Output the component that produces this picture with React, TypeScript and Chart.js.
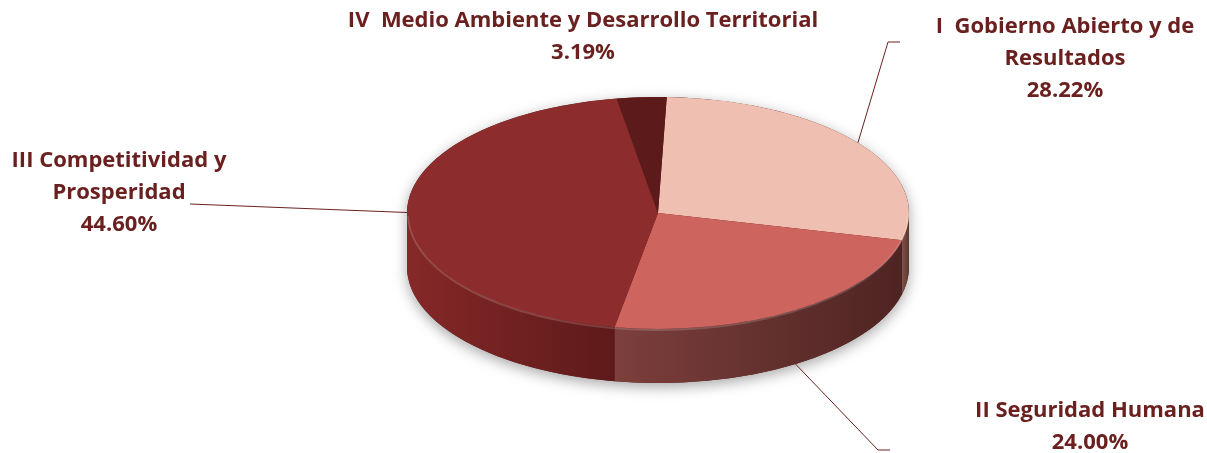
import React, { useEffect, useRef } from "react";
import { Chart, registerables } from "chart.js";

Chart.register(...registerables);

// ---- data ----
const categories = [
  "I  Gobierno Abierto y de Resultados",
  "II Seguridad Humana",
  "III Competitividad y Prosperidad",
  "IV  Medio Ambiente y Desarrollo Territorial",
];
const labelLines = [
  ["I  Gobierno Abierto y de", "Resultados"],
  ["II Seguridad Humana"],
  ["III Competitividad y", "Prosperidad"],
  ["IV  Medio Ambiente y Desarrollo Territorial"],
];
const values = [28.22, 24.0, 44.6, 3.19];
const percentLabels = ["28.22%", "24.00%", "44.60%", "3.19%"];

// ---- styles ----
const topColors = ["#EFC0B1", "#CD645E", "#8C2C2C", "#5C1A1A"];
const sideLeft = ["#7E534A", "#7C3F3C", "#852828", "#4C1616"];
const sideRight = ["#5A3630", "#4E2422", "#5E1A1A", "#3C1010"];
const TEXT_COLOR = "#6B2020";
const FONT = "bold 22px 'Open Sans'";
const K = 116 / 251; // vertical squash of the pie
const DEPTH = 54;
const LINE_GAP = 32;
// label anchors (center x, first line center y) and leader line elbows
const labelPos = [
  { x: 1065, y: 27 },
  { x: 1090, y: 411 },
  { x: 119, y: 161 },
  { x: 583, y: 21 },
];
const leaders: (null | { pts: [number, number][]; side: boolean })[] = [
  { pts: [[888, 42], [900, 42]], side: false },
  { pts: [[878, 450], [890, 450]], side: true },
  { pts: [[190, 204]], side: false },
  null,
];

const pie3d = {
  id: "pie3d",
  beforeDatasetsDraw(chart: any) {
    const meta = chart.getDatasetMeta(0);
    const arcs = meta.data;
    if (!arcs.length) return;
    const ctx: CanvasRenderingContext2D = chart.ctx;
    const p0 = arcs[0].getProps(["x", "y", "outerRadius"], true);
    const cx = p0.x, cy = p0.y, R = p0.outerRadius;
    const ry = R * K;

    // soft shadow silhouette
    ctx.save();
    ctx.shadowColor = "rgba(0,0,0,0.35)";
    ctx.shadowBlur = 14;
    ctx.shadowOffsetY = 4;
    ctx.fillStyle = "#5a1a1a";
    ctx.beginPath();
    ctx.ellipse(cx, cy + DEPTH, R, ry, 0, 0, Math.PI, false);
    ctx.ellipse(cx, cy, R, ry, 0, Math.PI, 2 * Math.PI, false);
    ctx.closePath();
    ctx.fill();
    ctx.restore();

    // side walls
    arcs.forEach((arc: any, i: number) => {
      const p = arc.getProps(["startAngle", "endAngle"], true);
      for (const off of [0, 2 * Math.PI, -2 * Math.PI]) {
        const a1 = Math.max(p.startAngle, off);
        const a2 = Math.min(p.endAngle, off + Math.PI);
        if (a2 <= a1) continue;
        const xa = cx + R * Math.cos(a1);
        const xb = cx + R * Math.cos(a2);
        const g = ctx.createLinearGradient(Math.min(xa, xb), 0, Math.max(xa, xb), 0);
        g.addColorStop(0, sideLeft[i]);
        g.addColorStop(1, sideRight[i]);
        ctx.save();
        ctx.fillStyle = g;
        ctx.beginPath();
        ctx.ellipse(cx, cy + DEPTH, R, ry, 0, a1, a2, false);
        ctx.ellipse(cx, cy, R, ry, 0, a2, a1, true);
        ctx.closePath();
        ctx.fill();
        ctx.restore();
      }
    });

    ctx.save();
    ctx.translate(cx, cy);
    ctx.scale(1, K);
    ctx.translate(-cx, -cy);
  },
  afterDatasetsDraw(chart: any) {
    const meta = chart.getDatasetMeta(0);
    const arcs = meta.data;
    if (!arcs.length) return;
    const ctx: CanvasRenderingContext2D = chart.ctx;
    ctx.restore();
    const p0 = arcs[0].getProps(["x", "y", "outerRadius"], true);
    const cx = p0.x, cy = p0.y, R = p0.outerRadius;
    const ry = R * K;
    // rim highlight
    ctx.save();
    ctx.strokeStyle = "rgba(255,255,255,0.16)";
    ctx.lineWidth = 2;
    ctx.beginPath();
    ctx.ellipse(cx, cy + 1, R - 1, ry, 0, 0.02, Math.PI - 0.02, false);
    ctx.stroke();
    ctx.restore();
  },
  afterDraw(chart: any) {
    const meta = chart.getDatasetMeta(0);
    const arcs = meta.data;
    if (!arcs.length) return;
    const ctx: CanvasRenderingContext2D = chart.ctx;
    const p0 = arcs[0].getProps(["x", "y", "outerRadius"], true);
    const cx = p0.x, cy = p0.y, R = p0.outerRadius;
    const ry = R * K;
    ctx.save();
    // leader lines
    ctx.strokeStyle = TEXT_COLOR;
    ctx.lineWidth = 1;
    arcs.forEach((arc: any, i: number) => {
      const L = leaders[i];
      if (!L) return;
      const p = arc.getProps(["startAngle", "endAngle"], true);
      const mid = (p.startAngle + p.endAngle) / 2;
      const sx = cx + R * Math.cos(mid);
      const sy = cy + ry * Math.sin(mid) + (L.side ? DEPTH : 0);
      ctx.beginPath();
      ctx.moveTo(sx, sy);
      L.pts.forEach(([x, y]) => ctx.lineTo(x, y));
      ctx.stroke();
    });
    // labels
    ctx.fillStyle = TEXT_COLOR;
    ctx.font = FONT;
    ctx.textAlign = "center";
    ctx.textBaseline = "middle";
    categories.forEach((_, i) => {
      const lines = [...labelLines[i], percentLabels[i]];
      const pos = labelPos[i];
      lines.forEach((t, j) => ctx.fillText(t, pos.x, pos.y + j * LINE_GAP));
    });
    ctx.restore();
  },
};

export default function App() {
  const ref = useRef<HTMLCanvasElement>(null);
  useEffect(() => {
    if (!ref.current) return;
    const chart = new Chart(ref.current, {
      type: "pie",
      data: {
        labels: categories,
        datasets: [
          {
            data: values,
            backgroundColor: topColors,
            borderWidth: 0,
            radius: 251,
            rotation: 2,
            clip: false,
          } as any,
        ],
      },
      options: {
        responsive: false,
        animation: false,
        events: [],
        layout: { padding: { left: 109, right: 0, top: 0, bottom: 27 } },
        plugins: { legend: { display: false }, tooltip: { enabled: false } },
      },
      plugins: [pie3d as any],
    });
    return () => chart.destroy();
  }, []);
  return (
    <div style={{ position: "absolute", left: 0, top: 0, width: 1207, height: 453, background: "#fff" }}>
      <canvas ref={ref} width={1207} height={453} style={{ display: "block" }} />
    </div>
  );
}
